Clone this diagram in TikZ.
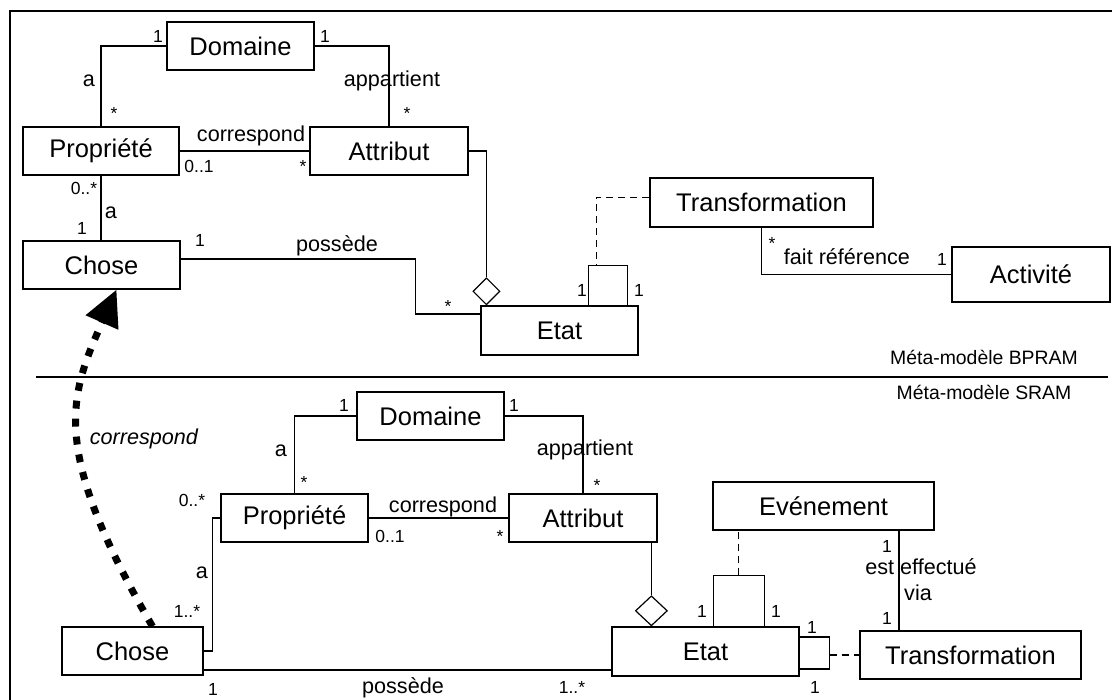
\documentclass[tikz,border=0pt]{standalone}
\usepackage{fontspec}
\setmainfont{Liberation Sans}
\usetikzlibrary{arrows.meta,shapes.geometric}

\begin{document}
\begin{tikzpicture}[x=1pt,y=-1pt,line width=1.2pt,
    box/.style={draw,inner sep=0pt,font=\fontsize{25.5}{30}\selectfont},
    mult/.style={inner sep=0pt,anchor=base,font=\fontsize{17.5}{21}\selectfont},
    rel/.style={inner sep=0pt,anchor=base,font=\fontsize{21.6}{26}\selectfont},
    agg/.style={diamond,draw,fill=white,inner sep=0pt,anchor=south},
    dsh/.style={dash pattern=on 7pt off 5pt}]
\useasboundingbox (0,0) rectangle (1112,700);
\draw (10,700) -- (10,11) -- (1112,11);
\draw (36,377) -- (1108,377);
\node[rel,font=\fontsize{19.4}{23}\selectfont] (bpram) at (984,365) {Méta-modèle BPRAM};
\node[rel,font=\fontsize{19.4}{23}\selectfont] (sram) at (984,400) {Méta-modèle SRAM};

% classes
\foreach \nm/\x/\y/\w/\h/\t in {dom1/240.5/46/147/48/Domaine, prop1/101/151/156/48/Propriété,
    attr1/389/151/158/48/Attribut, chose1/101.5/265/157/48/Chose, etat1/559.5/330.5/157/49/Etat,
    trans1/761.5/202.5/223/49/Transformation, act1/1031/274.5/158/55/Activité,
    dom2/430.5/416/147/48/Domaine, prop2/294.5/518/147/48/Propriété, attr2/583/518/148/48/Attribut,
    chose2/132.5/651/141/48/Chose, etat2/705.5/651.5/187/49/Etat, evt2/823.5/506/221/48/Evénement,
    trans2/970.5/655/221/48/Transformation}
  \node[box,minimum width=\w pt,minimum height=\h pt] (\nm) at (\x,\y) {\t};

% BPRAM
\draw (dom1.west) -| (prop1.north);
\draw (dom1.east) -| (attr1.north);
\draw (prop1.east) -- (attr1.west);
\draw (prop1.south) -- (prop1.south |- chose1.north);
\draw ([yshift=6pt]chose1.east) -| ([xshift=-65pt,yshift=16.5pt]etat1.west) -- ([yshift=16.5pt]etat1.west);
\node[agg,minimum width=27pt,minimum height=27pt] (agg1) at ([xshift=6pt]etat1.north west) {};
\draw (attr1.east) -| (agg1.north);
\draw ([xshift=108pt]etat1.north west) -- ++(0,-40) -- ++(39,0) -- ++(0,40);
\coordinate (loop1) at ([xshift=116pt,yshift=40pt]etat1.north west);
\draw[dsh] ([yshift=5pt]trans1.west) -| (loop1);
\draw (trans1.south) |- (act1.west);

% SRAM
\draw (dom2.west) -| (prop2.north);
\draw (dom2.east) -| (attr2.north);
\draw (prop2.east) -- (attr2.west);
\draw (prop2.west) -| ([xshift=9pt]chose2.east) -- (chose2.east);
\draw ([yshift=-19pt]chose2.east) -- ([yshift=-18.5pt]etat2.west);
\node[agg,minimum width=32pt,minimum height=30pt] (agg2) at ([xshift=40pt]etat2.north west) {};
\draw (agg2.north |- attr2.south) -- (agg2.north);
\draw ([xshift=102pt]etat2.north west) -- ++(0,-51) -- ++(51,0) -- ++(0,51);
\coordinate (loop2) at ([xshift=127pt,yshift=51pt]etat2.north west);
\draw[dsh] (loop2) -- (loop2 |- evt2.south);
\draw ([yshift=14.5pt]etat2.east) -- ++(30,0) -- ++(0,32) -- ++(-30,0);
\coordinate (loop3) at ([xshift=30pt,yshift=-3.5pt]etat2.east);
\draw[dsh] (loop3) -- (trans2.west);
\coordinate (evx) at ([xshift=75.5pt]evt2.south);
\draw (evx) -- (evx |- trans2.north);

% correspondance entre les deux
\draw[line width=7pt,dash pattern=on 8pt off 10pt,-{Triangle[length=36pt,width=34pt]}]
  ([xshift=20pt]chose2.north) .. controls (48,447) and (70,395) .. ([xshift=15pt]chose1.south)
  node[pos=0.47,anchor=west,xshift=8pt,inner sep=0pt,font=\fontsize{21.6}{26}\selectfont\itshape] (corr) {correspond};

% roles
\foreach \x/\y/\t [count=\n] in {89/87/a, 392/87/appartient, 251/142/correspond, 111/219/a,
    337/252/possède, 847/265/fait référence, 281/457/a, 585/456/appartient, 443/513/correspond,
    202/578/a, 403/693/possède, 921/574/est effectué, 918/600/via}
  \node[rel] (r\n) at (\x,\y) {\t};

% multiplicites
\foreach \x/\y/\t [count=\n] in {158/43/1, 325/43/1, 114/120/*, 407/120/*, 199/173/0..1, 303/173/*,
    84/195/0..*, 82/235/1, 200/247/1, 448/313/*, 582/297/1, 639/297/1, 772/250/*, 942/266/1,
    344/412/1, 514/412/1, 304/489/*, 597/492/*, 390/543/0..1, 500/543/*, 192/507/0..*,
    187/617/1..*, 213/695/1, 572/693/1..*, 702/617/1, 776/617/1, 812/633/1, 815/693/1,
    887/552/1, 887/624/1}
  \node[mult] (m\n) at (\x,\y) {\t};
\end{tikzpicture}
\end{document}
